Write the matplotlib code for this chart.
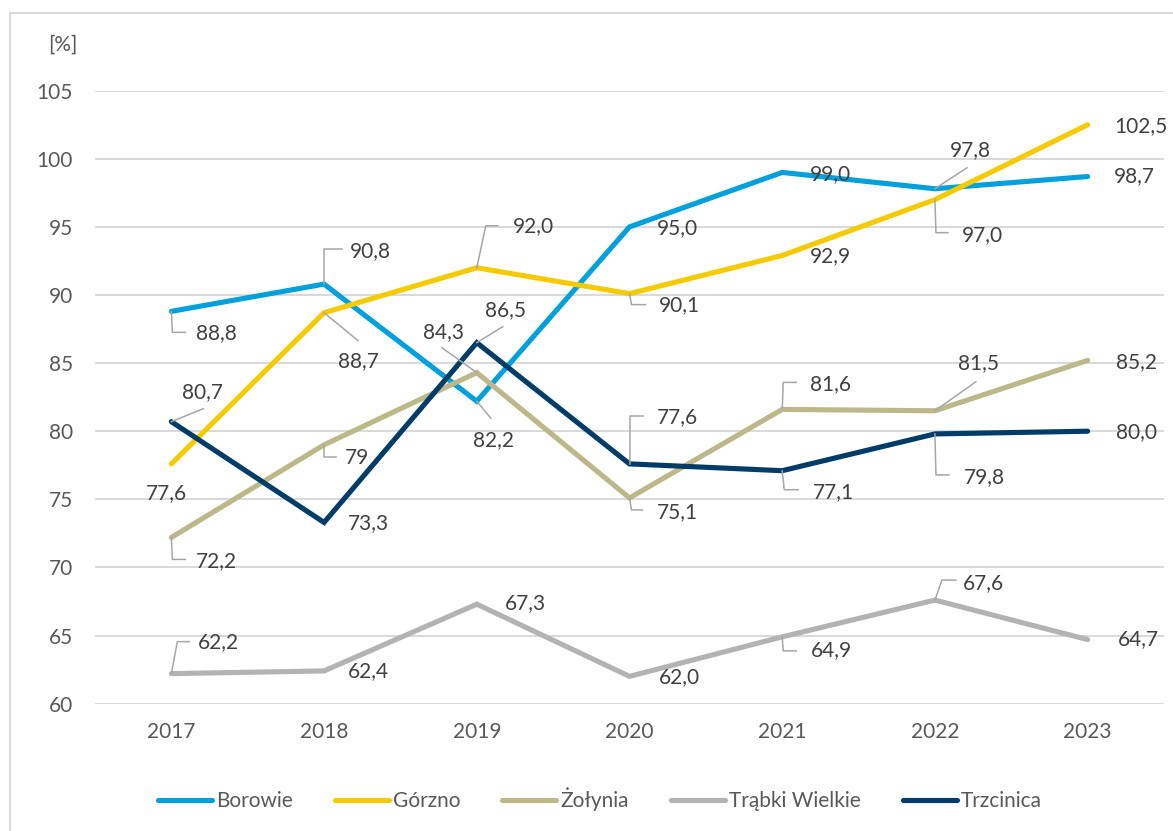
import numpy as np
import matplotlib.pyplot as plt
from matplotlib.lines import Line2D
from matplotlib.transforms import IdentityTransform

years = ['2017', '2018', '2019', '2020', '2021', '2022', '2023']
names = ['Borowie', 'Górzno', 'Żołynia', 'Trąbki Wielkie', 'Trzcinica']
borowie = [88.8, 90.8, 82.2, 95.0, 99.0, 97.8, 98.7]
gorzno = [77.6, 88.7, 92.0, 90.1, 92.9, 97.0, 102.5]
zolynia = [72.2, 79, 84.3, 75.1, 81.6, 81.5, 85.2]
trabki = [62.2, 62.4, 67.3, 62.0, 64.9, 67.6, 64.7]
trzcinica = [80.7, 73.3, 86.5, 77.6, 77.1, 79.8, 80.0]
series = [borowie, gorzno, zolynia, trabki, trzcinica]
# Żołynia 2018 is shown without decimals in the source
label_text = [
    ['88,8', '90,8', '82,2', '95,0', '99,0', '97,8', '98,7'],
    ['77,6', '88,7', '92,0', '90,1', '92,9', '97,0', '102,5'],
    ['72,2', '79', '84,3', '75,1', '81,6', '81,5', '85,2'],
    ['62,2', '62,4', '67,3', '62,0', '64,9', '67,6', '64,7'],
    ['80,7', '73,3', '86,5', '77,6', '77,1', '79,8', '80,0'],
]

colors = ['#00A0DD', '#F5CB00', '#BDB88A', '#B3B3B3', '#003C68']
txt = '#595959'
W, H = 1173, 831

# label offsets in pixels (dx right, dy down) and leader lines (pixel vertices)
offsets = [
    [(45, 22), (46, -33), (17, 39), (48, 1), (48, 2), (35, -39), (47, 0)],
    [(-5, 29), (34, 48), (57, -42), (50, 11), (48, 1), (48, 35), (53, 1)],
    [(45, 24), (33, 13), (-33, -41), (48, 14), (48, -25), (44, -48), (49, 2)],
    [(47, -32), (44, 0), (49, -1), (50, 1), (49, 13), (49, -17), (51, 0)],
    [(31, -30), (44, 1), (29, -33), (48, -47), (51, 21), (49, 43), (49, 1)],
]
leaders = [
    [[(1, 21), (14, 21)], [(0, -35), (18, -35)], [(14, 17)], None, None, [(32, -21)], None],
    [None, [(34, 28)], [(9, -42), (21, -42)], [(2, 11), (16, 11)], None, [(1, 33), (13, 33)], None],
    [[(1, 22), (14, 22)], [(0, 12), (12, 12)], [(-35, -25)], [(2, 12), (13, 12)], [(1, -27), (14, -27)], [(41, -29)], None],
    [[(6, -32), (18, -32)], None, None, None, [(1, 14), (14, 14)], [(7, -20), (21, -20)], None],
    [[(32, -13)], None, [(26, -16)], [(0, -48), (13, -48)], [(2, 19), (16, 19)], [(1, 41), (14, 41)], None],
]

plt.rcParams['font.family'] = ['Lato', 'DejaVu Sans']
fs = 15

fig = plt.figure(figsize=(W / 100, H / 100), dpi=100)
ax = fig.add_axes([95 / W, (H - 703.6) / H, (1164 - 95) / W, (703.6 - 90.7) / H])

x = np.arange(len(years))
for vals, name, c in zip(series, names, colors):
    ax.plot(x, vals, color=c, lw=3.7, solid_capstyle='round', solid_joinstyle='miter',
            label=name, zorder=3)

ax.set_xlim(-0.5, 6.5)
ax.set_ylim(60, 105)
ax.set_yticks(np.arange(60, 106, 5))
ax.set_xticks(x)
ax.set_xticklabels(years)
ax.grid(axis='y', color='#D9D9D9', lw=1.4)
ax.set_axisbelow(True)
for s in ax.spines.values():
    s.set_visible(False)
ax.tick_params(length=0, labelsize=fs, labelcolor=txt)
ax.tick_params(axis='y', pad=16)
ax.tick_params(axis='x', pad=13)

fig.text(63 / W, 1 - 45 / H, '[%]', ha='center', va='center', fontsize=fs, color=txt)

# data labels with leader lines
fig.canvas.draw()
for si, vals in enumerate(series):
    for i, v in enumerate(vals):
        px, py = ax.transData.transform((x[i], v))
        dx, dy = offsets[si][i]
        ax.annotate(label_text[si][i], (x[i], v), xytext=(dx, -dy), textcoords='offset pixels',
                    ha='center', va='center', fontsize=fs, color='#404040', zorder=5)
        if leaders[si][i]:
            xs = [px] + [px + a for a, b in leaders[si][i]]
            ys = [py] + [py - b for a, b in leaders[si][i]]
            fig.add_artist(Line2D(xs, ys, transform=IdentityTransform(), color='#A6A6A6', lw=1.1, zorder=4))

# outer frame (top and left visible)
fig.add_artist(Line2D([10 / W, 10 / W, 1.0], [0, 1 - 13 / H, 1 - 13 / H], transform=fig.transFigure,
                      color='#D9D9D9', lw=1.5))

fig.legend(loc='center', bbox_to_anchor=(600 / W, 1 - 799 / H), ncol=5, frameon=False, fontsize=fs,
           handlelength=2.6, handletextpad=0.2, columnspacing=2.0, labelcolor=txt)

fig.savefig('out.png', dpi=100)
